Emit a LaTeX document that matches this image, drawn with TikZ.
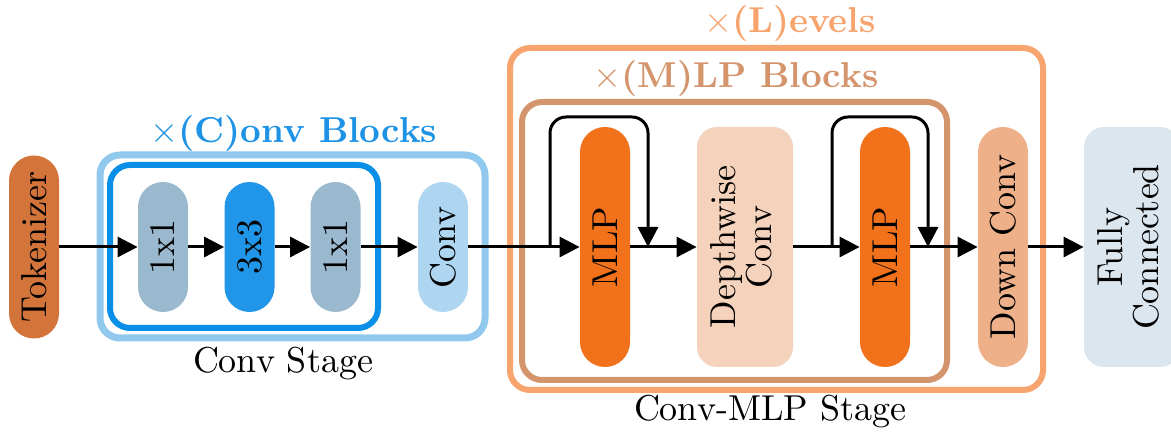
\documentclass[tikz,border=0pt]{standalone}
\usetikzlibrary{arrows.meta}
\usepackage{graphicx}
\definecolor{tokc}{HTML}{D3743B}
\definecolor{grayb}{HTML}{9AB9CE}
\definecolor{midb}{HTML}{2196E8}
\definecolor{lightb}{HTML}{AED6F1}
\definecolor{outerb}{HTML}{90C8EE}
\definecolor{innerb}{HTML}{0A8FE8}
\definecolor{titleb}{HTML}{1E93E6}
\definecolor{levc}{HTML}{F7A46E}
\definecolor{mlpf}{HTML}{D4946C}
\definecolor{mlpc}{HTML}{F2721C}
\definecolor{dwc}{HTML}{F5D2BB}
\definecolor{downc}{HTML}{EDB089}
\definecolor{fcc}{HTML}{DCE6EE}
\newcommand\bigtxt[1]{\scalebox{1.8}{#1}}
\newcommand\vtxt[1]{\rotatebox{90}{\scalebox{1.8}{#1}}}
\tikzset{
  blk/.style={rectangle, rounded corners=12.5pt, inner sep=0pt, minimum width=25pt},
  sblk/.style={blk, minimum height=65pt},
  tblk/.style={blk, minimum height=120pt},
  wblk/.style={blk, rounded corners=10pt, minimum width=48pt, minimum height=120pt},
  arr/.style={line width=1.5pt, -{Triangle[length=10pt,width=10pt]}},
  frame/.style={rounded corners=10pt},
  ttl/.style={anchor=base, inner sep=0pt},
}
\begin{document}
\begin{tikzpicture}[x=0.5pt,y=-0.5pt]
\useasboundingbox (0,0) rectangle (1171,437);
% frames
\draw[frame, outerb, line width=3.5pt] (100,155) rectangle (485,338);
\draw[frame, innerb, line width=3pt] (110,165) rectangle (378,328);
\draw[frame, levc, line width=3pt] (510,48) rectangle (1043,390);
\draw[frame, mlpf, line width=3pt] (522,102) rectangle (947,380);
% titles
\node[ttl, titleb] (tc) at (294,143) {\bigtxt{$\times$\textbf{(C)onv Blocks}}};
\node[ttl] (ts) at (283,373) {\bigtxt{Conv Stage}};
\node[ttl, levc] (tl) at (790,33) {\bigtxt{$\times$\textbf{(L)evels}}};
\node[ttl, mlpf] (tm) at (736,88) {\bigtxt{$\times$\textbf{(M)LP Blocks}}};
\node[ttl] (tcm) at (770,421) {\bigtxt{Conv-MLP Stage}};
% blocks
\node[blk, fill=tokc, minimum height=91.5pt] (tok) at (34,247) {\vtxt{Tokenizer}};
\node[sblk, fill=grayb] (a1) at (163,247) {\vtxt{1x1}};
\node[sblk, fill=midb] (a3) at (249.5,247) {\vtxt{3x3}};
\node[sblk, fill=grayb] (a2) at (335.5,247) {\vtxt{1x1}};
\node[sblk, fill=lightb] (cv) at (443,247) {\vtxt{Conv}};
\node[tblk, fill=mlpc] (m1) at (605,247) {\vtxt{MLP}};
\node[wblk, fill=dwc] (dw) at (745,247) {\vtxt{\begin{tabular}{@{}c@{}}Depthwise\\[-2pt]Conv\end{tabular}}};
\node[tblk, fill=mlpc] (m2) at (885,247) {\vtxt{MLP}};
\node[tblk, fill=downc] (dc) at (1003,247) {\vtxt{Down Conv}};
\node[wblk, fill=fcc] (fc) at (1132,247) {\vtxt{\begin{tabular}{@{}c@{}}Fully\\[-2pt]Connected\end{tabular}}};
% arrows
\draw[arr] (tok.east) -- (a1.west);
\draw[arr] (a1.east) -- (a3.west);
\draw[arr] (a3.east) -- (a2.west);
\draw[arr] (a2.east) -- (cv.west);
\draw[arr] (cv.east) -- (m1.west);
\draw[arr] (m1.east) -- (dw.west);
\draw[arr] (dw.east) -- (m2.west);
\draw[arr] (m2.east) -- (dc.west);
\draw[arr] (dc.east) -- (fc.west);
% skip connections
\coordinate (j1) at (550,247);
\coordinate (u1) at (550,117);
\coordinate (v1) at (648,117);
\coordinate (k1) at (648,247);
\coordinate (j2) at (832,247);
\coordinate (u2) at (832,117);
\coordinate (v2) at (928,117);
\coordinate (k2) at (928,247);
\draw[arr, rounded corners=8pt] (j1) -- (u1) -- (v1) -- (k1);
\draw[arr, rounded corners=8pt] (j2) -- (u2) -- (v2) -- (k2);
\end{tikzpicture}
\end{document}
